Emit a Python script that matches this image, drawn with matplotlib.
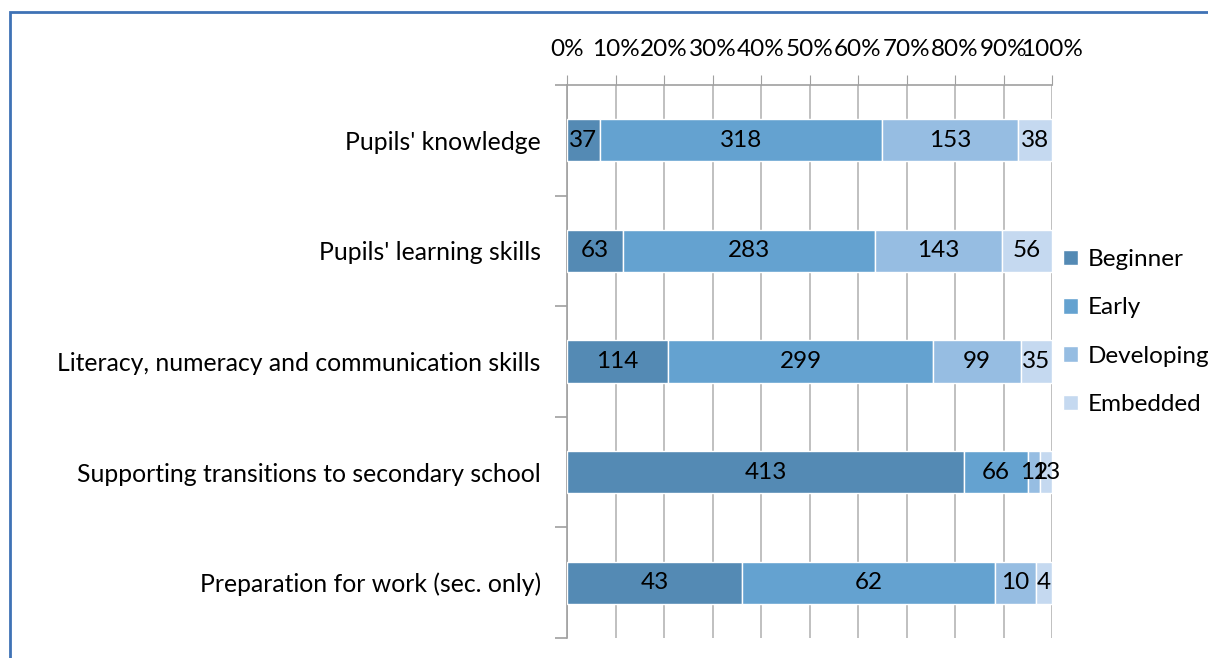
import matplotlib.pyplot as plt
import numpy as np
from matplotlib.patches import Rectangle
from matplotlib.ticker import MultipleLocator, FixedLocator

plt.rcParams['font.family'] = ['Lato', 'DejaVu Sans']

categories = ["Pupils' knowledge",
              "Pupils' learning skills",
              "Literacy, numeracy and communication skills",
              "Supporting transitions to secondary school",
              "Preparation for work (sec. only)"]
series = ["Beginner", "Early", "Developing", "Embedded"]
beginner = [37, 63, 114, 413, 43]
early = [318, 283, 299, 66, 62]
developing = [153, 143, 99, 12, 10]
embedded = [38, 56, 35, 13, 4]
colors = ["#548ab4", "#64a2d0", "#96bde2", "#c5d9f0"]

counts = np.array([beginner, early, developing, embedded], dtype=float)
shares = counts / counts.sum(axis=0)

fig = plt.figure(figsize=(12.08, 6.58), dpi=100)
ax = fig.add_axes([0.4694, 0.0304, 0.4015, 0.8404])

y = np.arange(len(categories))
left = np.zeros(len(categories))
for i, name in enumerate(series):
    ax.barh(y, shares[i], left=left, height=0.38, color=colors[i],
            edgecolor="white", linewidth=1, label=name, zorder=3)
    for j in range(len(categories)):
        ax.text(left[j] + shares[i][j] / 2, y[j], f"{int(counts[i][j])}",
                ha="center", va="center", fontsize=17.5, color="black", zorder=4)
    left += shares[i]

ax.set_xlim(0, 1)
ax.set_ylim(len(categories) - 0.5, -0.5)
ax.xaxis.set_major_locator(MultipleLocator(0.1))
ax.set_xticklabels([f"{int(round(v * 100))}%" for v in ax.get_xticks()])
ax.xaxis.tick_top()
ax.tick_params(axis="x", top=True, bottom=False, length=7, color="#a0a0a0",
               labelsize=17.5, pad=11)
ax.grid(axis="x", color="#b5b5b5", linewidth=1.2, zorder=0)

ax.set_yticks(y)
ax.set_yticklabels(categories, fontsize=17.8)
ax.tick_params(axis="y", which="major", length=0, pad=19)
ax.yaxis.set_minor_locator(FixedLocator(np.arange(-0.5, len(categories), 1.0)))
ax.tick_params(axis="y", which="minor", length=9, color="#a0a0a0", width=1.2)

for s in ["bottom", "right"]:
    ax.spines[s].set_visible(False)
for s in ["top", "left"]:
    ax.spines[s].set_color("#a0a0a0")
    ax.spines[s].set_linewidth(1.2)

handles, labels = ax.get_legend_handles_labels()
fig.legend(handles, labels, loc="upper left", bbox_to_anchor=(0.872, 0.636),
           frameon=False, fontsize=17.5, handlelength=0.6, handleheight=0.6,
           handletextpad=0.4, labelspacing=1.12, borderaxespad=0)

fig.patches.append(Rectangle((10 / 1208, -0.1), 1.2, 1 - 12 / 658 + 0.1,
                             transform=fig.transFigure, fill=False,
                             edgecolor="#3f72b5", linewidth=2))

fig.savefig("out.png", dpi=100)
